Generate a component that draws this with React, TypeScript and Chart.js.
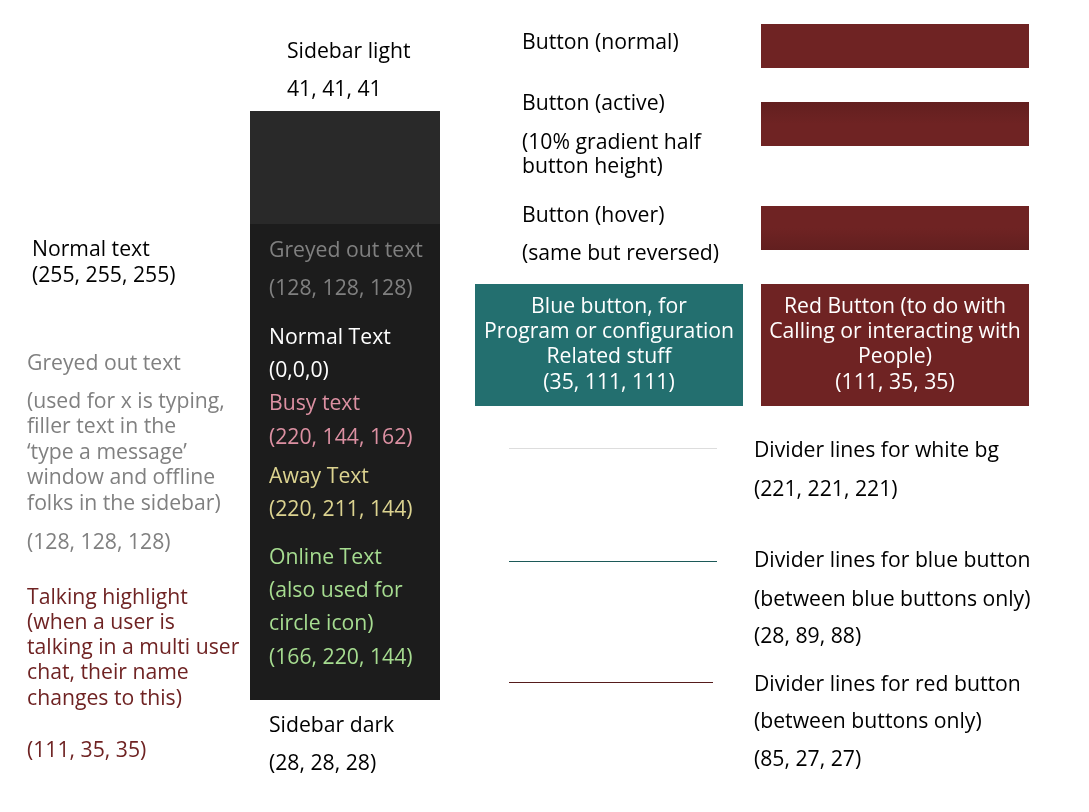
import { useEffect, useRef } from "react";
import { Chart, registerables } from "chart.js";

Chart.register(...registerables);

const W = 1089;
const H = 812;
const FONT = '21.2px "Open Sans", "Noto Sans", sans-serif';
const TEXT_DY = 1;

// Colour swatches (blocks)
const swatchNames = ["Sidebar light", "Sidebar dark", "Button (normal)", "Button (active)", "Button (hover)", "Blue button", "Red button"];
const swatchColors = ["rgb(41,41,41)", "rgb(28,28,28)", "rgb(111,35,35)", "rgb(111,35,35)", "rgb(111,35,35)", "rgb(35,111,111)", "rgb(111,35,35)"];
const swatchGradient = ["none", "none", "none", "top", "bottom", "none", "none"];
const swatchX0 = [250, 250, 761, 761, 761, 475, 761];
const swatchX1 = [440, 440, 1029, 1029, 1029, 743, 1029];
const swatchY0 = [111, 224, 24, 102, 206, 284, 284];
const swatchY1 = [224, 700, 68, 146, 250, 406, 406];

// Divider lines
const dividerNames = ["white bg", "blue button", "red button"];
const dividerColors = ["rgb(221,221,221)", "rgb(28,89,88)", "rgb(85,27,27)"];
const dividerX0 = [509, 509, 509];
const dividerX1 = [717, 717, 713];
const dividerY = [448.5, 561.5, 682.5];

// Text labels
const BLACK = "rgb(0,0,0)";
const WHITE = "rgb(255,255,255)";
const GREY = "rgb(128,128,128)";
const RED = "rgb(111,35,35)";
const BUSY = "rgb(220,144,162)";
const AWAY = "rgb(220,211,144)";
const ONLINE = "rgb(166,220,144)";

const labelTexts = [
  "Sidebar light", "41, 41, 41",
  "Button (normal)", "Button (active)", "(10% gradient half", "button height)",
  "Button (hover)", "(same but reversed)",
  "Normal text", "(255, 255, 255)",
  "Greyed out text", "(128, 128, 128)",
  "Normal Text", "(0,0,0)",
  "Busy text", "(220, 144, 162)",
  "Away Text", "(220, 211, 144)",
  "Online Text", "(also used for", "circle icon)", "(166, 220, 144)",
  "Sidebar dark", "(28, 28, 28)",
  "Greyed out text", "(used for x is typing,", "filler text in the", "\u2018type a message\u2019", "window and offline", "folks in the sidebar)", "(128, 128, 128)",
  "Talking highlight", "(when a user is", "talking in a multi user", "chat, their name", "changes to this)", "(111, 35, 35)",
  "Blue button, for", "Program or configuration", "Related stuff", "(35, 111, 111)",
  "Red Button (to do with", "Calling or interacting with", "People)", "(111, 35, 35)",
  "Divider lines for white bg", "(221, 221, 221)",
  "Divider lines for blue button", "(between blue buttons only)", "(28, 89, 88)",
  "Divider lines for red button", "(between buttons only)", "(85, 27, 27)",
];
const labelColors = [
  BLACK, BLACK,
  BLACK, BLACK, BLACK, BLACK,
  BLACK, BLACK,
  BLACK, BLACK,
  GREY, GREY,
  WHITE, WHITE,
  BUSY, BUSY,
  AWAY, AWAY,
  ONLINE, ONLINE, ONLINE, ONLINE,
  BLACK, BLACK,
  GREY, GREY, GREY, GREY, GREY, GREY, GREY,
  RED, RED, RED, RED, RED, RED,
  WHITE, WHITE, WHITE, WHITE,
  WHITE, WHITE, WHITE, WHITE,
  BLACK, BLACK,
  BLACK, BLACK, BLACK,
  BLACK, BLACK, BLACK,
];
const labelAlign = [
  "left", "left",
  "left", "left", "left", "left",
  "left", "left",
  "left", "left",
  "left", "left",
  "left", "left",
  "left", "left",
  "left", "left",
  "left", "left", "left", "left",
  "left", "left",
  "left", "left", "left", "left", "left", "left", "left",
  "left", "left", "left", "left", "left", "left",
  "center", "center", "center", "center",
  "center", "center", "center", "center",
  "left", "left",
  "left", "left", "left",
  "left", "left", "left",
];
const labelX = [
  287, 287,
  522, 522, 522, 522,
  522, 522,
  32, 32,
  269, 269,
  269, 269,
  269, 269,
  269, 269,
  269, 269, 269, 269,
  269, 269,
  27, 27, 27, 27, 27, 27, 27,
  27, 27, 27, 27, 27, 27,
  609, 609, 609, 609,
  895, 895, 895, 895,
  754, 754,
  754, 754, 754,
  754, 754, 754,
];
const labelY = [
  51, 89,
  42, 103, 142, 166,
  215, 253,
  249, 275,
  250, 288,
  337, 370,
  403, 437,
  476, 509,
  557, 590, 623, 657,
  725, 763,
  363, 401, 426, 452, 477, 503, 542,
  597, 622, 647, 672, 698, 750,
  306, 331, 356, 382,
  306, 331, 356, 382,
  450, 489,
  560, 599, 636,
  684, 721, 759,
];

function shade(rgb: string, f: number) {
  const m = rgb.match(/\d+/g)!.map(Number);
  return `rgb(${Math.round(m[0] * f)},${Math.round(m[1] * f)},${Math.round(m[2] * f)})`;
}

const swatchPlugin = {
  id: "swatches",
  beforeDatasetsDraw(chart: any) {
    const { ctx, scales } = chart;
    const xs = scales.x;
    const ys = scales.y;
    ctx.save();
    for (let i = 0; i < swatchNames.length; i++) {
      const x0 = xs.getPixelForValue(swatchX0[i]);
      const x1 = xs.getPixelForValue(swatchX1[i]);
      const y0 = ys.getPixelForValue(swatchY0[i]);
      const y1 = ys.getPixelForValue(swatchY1[i]);
      const base = swatchColors[i];
      const dark = shade(base, 0.88);
      if (swatchGradient[i] === "top") {
        const g = ctx.createLinearGradient(0, y0, 0, y1);
        g.addColorStop(0, dark);
        g.addColorStop(0.5, base);
        g.addColorStop(1, base);
        ctx.fillStyle = g;
      } else if (swatchGradient[i] === "bottom") {
        const g = ctx.createLinearGradient(0, y0, 0, y1);
        g.addColorStop(0, base);
        g.addColorStop(0.5, base);
        g.addColorStop(1, dark);
        ctx.fillStyle = g;
      } else {
        ctx.fillStyle = base;
      }
      ctx.fillRect(x0, y0, x1 - x0, y1 - y0);
    }
    ctx.restore();
  },
  afterDatasetsDraw(chart: any) {
    const { ctx, scales } = chart;
    const xs = scales.x;
    const ys = scales.y;
    ctx.save();
    ctx.font = FONT;
    ctx.textBaseline = "middle";
    for (let i = 0; i < labelTexts.length; i++) {
      ctx.fillStyle = labelColors[i];
      ctx.textAlign = labelAlign[i];
      ctx.fillText(labelTexts[i], xs.getPixelForValue(labelX[i]), ys.getPixelForValue(labelY[i]) + TEXT_DY);
    }
    ctx.restore();
  },
};

export default function App() {
  const ref = useRef<HTMLCanvasElement | null>(null);
  useEffect(() => {
    document.body.style.margin = "0";
    document.body.style.background = "#ffffff";
    const canvas = ref.current!;
    const chart = new Chart(canvas, {
      type: "line",
      data: {
        datasets: dividerNames.map((name, i) => ({
          label: name,
          data: [
            { x: dividerX0[i], y: dividerY[i] },
            { x: dividerX1[i], y: dividerY[i] },
          ],
          borderColor: dividerColors[i],
          borderWidth: 1,
          pointRadius: 0,
          fill: false,
        })),
      },
      options: {
        responsive: false,
        animation: false,
        events: [],
        layout: { padding: 0 },
        scales: {
          x: { type: "linear", min: 0, max: W, display: false },
          y: { type: "linear", min: 0, max: H, reverse: true, display: false },
        },
        plugins: {
          legend: { display: false },
          tooltip: { enabled: false },
        },
      },
      plugins: [swatchPlugin],
    });
    return () => chart.destroy();
  }, []);
  return (
    <div style={{ width: W, height: H, background: "#ffffff" }}>
      <canvas ref={ref} width={W} height={H} style={{ display: "block" }} />
    </div>
  );
}
